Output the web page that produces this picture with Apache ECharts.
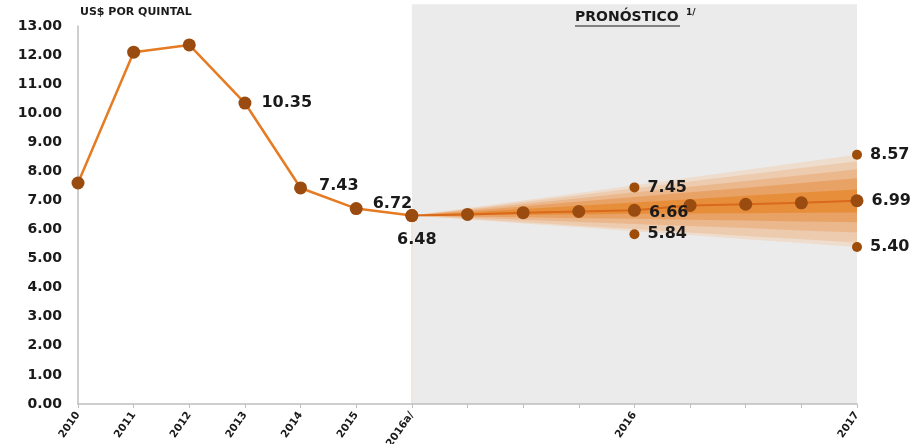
<!DOCTYPE html>
<html>
<head>
<meta charset="utf-8">
<script src="https://cdn.jsdelivr.net/npm/echarts@6/dist/echarts.min.js"></script>
<style>
  html, body { margin: 0; padding: 0; background: #fff; }
  #chart { width: 920px; height: 444px; }
</style>
</head>
<body>
<div id="chart"></div>
<script>
// categorias del eje x (etiquetas vacias = trimestres sin rotulo)
const categories = ['2010', '2011', '2012', '2013', '2014', '2015', '2016a/', '', '', '', '2016', '', '', '', '2017'];
const yTicks = [0, 13, 1];

// precio historico (US$ por quintal)
const historico = [7.60, 12.10, 12.35, 10.35, 7.43, 6.72, 6.48, null, null, null, null, null, null, null, null];
// pronostico central
const pronostico = [null, null, null, null, null, null, 6.48, 6.52, 6.58, 6.62, 6.66, 6.83, 6.87, 6.92, 6.99];
// extremos del pronostico
const extremoAlto = [null, null, null, null, null, null, null, null, null, null, 7.45, null, null, null, 8.57];
const extremoBajo = [null, null, null, null, null, null, null, null, null, null, 5.84, null, null, null, 5.40];

// bandas del abanico (desde 2016a/ hasta 2017), de la interior a la exterior
const banda1Alta = [6.48, 6.59, 6.71, 6.82, 6.93, 7.04, 7.16, 7.27, 7.38];
const banda1Baja = [6.48, 6.49, 6.51, 6.52, 6.54, 6.55, 6.56, 6.58, 6.59];
const banda2Alta = [6.48, 6.64, 6.80, 6.96, 7.12, 7.28, 7.44, 7.60, 7.76];
const banda2Baja = [6.48, 6.45, 6.42, 6.39, 6.37, 6.34, 6.31, 6.28, 6.25];
const banda3Alta = [6.48, 6.68, 6.88, 7.08, 7.28, 7.47, 7.67, 7.87, 8.07];
const banda3Baja = [6.48, 6.41, 6.34, 6.26, 6.19, 6.12, 6.05, 5.97, 5.90];
const banda4Alta = [6.48, 6.71, 6.95, 7.18, 7.42, 7.65, 7.88, 8.12, 8.35];
const banda4Baja = [6.48, 6.36, 6.25, 6.13, 6.02, 5.90, 5.78, 5.67, 5.55];
const banda5Alta = [6.48, 6.74, 7.00, 7.26, 7.52, 7.79, 8.05, 8.31, 8.57];
const banda5Baja = [6.48, 6.35, 6.21, 6.08, 5.94, 5.81, 5.67, 5.54, 5.40];

const inicioPronostico = 6;
const bandas = [
  { alta: banda5Alta, baja: banda5Baja, color: '#eedccd' },
  { alta: banda4Alta, baja: banda4Baja, color: '#edcbaf' },
  { alta: banda3Alta, baja: banda3Baja, color: '#ebb88e' },
  { alta: banda2Alta, baja: banda2Baja, color: '#e9a266' },
  { alta: banda1Alta, baja: banda1Baja, color: '#e78e3b' }
];

// etiquetas de datos visibles: indice -> posicion
const etiquetasHist = { 3: ['right', [2, 0]], 4: ['right', [4, -2]], 5: ['right', [2, -5]], 6: ['bottom', [5, 2]] };
const etiquetasPron = { 10: ['right', [0, 2]], 14: ['right', [0, 0]] };

const FONT = 'DejaVu Sans';
const dotColor = '#9a4b0f';
const labelStyle = { color: '#1a1a1a', fontFamily: FONT, fontWeight: 'bold', fontSize: 16, formatter: p => p.value.toFixed(2) };

function pad(arr) {
  const out = [];
  for (let i = 0; i < categories.length; i++) {
    const k = i - inicioPronostico;
    out.push(k >= 0 && k < arr.length ? arr[k] : '-');
  }
  return out;
}

function conEtiquetas(values, map) {
  return values.map((v, i) => {
    if (v === null) return '-';
    const e = map[i];
    if (!e) return v;
    return { value: v, label: Object.assign({ show: true, position: e[0], offset: e[1], distance: 8 }, labelStyle) };
  });
}

const series = [];
bandas.forEach((b, n) => {
  const baja = pad(b.baja);
  const alta = pad(b.alta);
  series.push({
    type: 'line', stack: 'b' + n, data: baja, symbol: 'none', silent: true,
    lineStyle: { opacity: 0 }, z: 1
  });
  series.push({
    type: 'line', stack: 'b' + n,
    data: alta.map((v, i) => v === '-' ? '-' : +(v - baja[i]).toFixed(3)),
    symbol: 'none', silent: true, lineStyle: { opacity: 0 },
    areaStyle: { color: b.color, opacity: 1 }, z: 1
  });
});

series.push({
  type: 'line', data: conEtiquetas(historico, etiquetasHist),
  symbol: 'circle', symbolSize: 13,
  lineStyle: { color: '#e57b22', width: 2.5 },
  itemStyle: { color: dotColor, borderWidth: 0 }, z: 3
});
series.push({
  type: 'line', data: conEtiquetas(pronostico, etiquetasPron),
  symbol: 'circle', symbolSize: 13,
  lineStyle: { color: '#d9691b', width: 2 },
  itemStyle: { color: dotColor, borderWidth: 0 }, z: 3
});
[extremoAlto, extremoBajo].forEach(arr => {
  series.push({
    type: 'line', data: conEtiquetas(arr, { 10: ['right', [0, 0]], 14: ['right', [0, 0]] }),
    symbol: 'circle', symbolSize: 10, lineStyle: { opacity: 0 },
    itemStyle: { color: '#9e4c08', borderWidth: 0 }, z: 3
  });
});

const chart = echarts.init(document.getElementById('chart'), null, { renderer: 'canvas' });
chart.setOption({
  animation: false,
  backgroundColor: '#ffffff',
  grid: { left: 78, right: 63, top: 26, bottom: 40, containLabel: false, outerBoundsMode: 'none' },
  xAxis: {
    type: 'category', data: categories, boundaryGap: false,
    axisLine: { lineStyle: { color: '#bfbfbf', width: 1.5 } },
    axisTick: { show: true, interval: 0, length: 4, lineStyle: { color: '#bfbfbf' } },
    axisLabel: { interval: 0, rotate: 55, margin: 9, color: '#1a1a1a', fontFamily: FONT, fontWeight: 'bold', fontSize: 10.5 },
    splitLine: { show: false }
  },
  yAxis: {
    type: 'value', min: yTicks[0], max: yTicks[1], interval: yTicks[2],
    axisLine: { show: true, lineStyle: { color: '#bfbfbf', width: 1.5 } },
    axisTick: { show: false },
    axisLabel: { margin: 16, color: '#1a1a1a', fontFamily: FONT, fontWeight: 'bold', fontSize: 14, formatter: v => v.toFixed(2) },
    splitLine: { show: false }
  },
  series: series
});

// fondo gris del pronostico, ubicado con las escalas del grafico
const x0 = chart.convertToPixel({ xAxisIndex: 0 }, inicioPronostico);
const x1 = chart.convertToPixel({ xAxisIndex: 0 }, categories.length - 1);
const yBase = chart.convertToPixel({ yAxisIndex: 0 }, 0);
const yTop = chart.convertToPixel({ yAxisIndex: 0 }, 13.75);
const yLinea = chart.convertToPixel({ yAxisIndex: 0 }, historico[inicioPronostico]);
chart.setOption({
  graphic: [
    { type: 'rect', z: -10, silent: true, shape: { x: x0, y: yTop, width: x1 - x0, height: yBase - yTop }, style: { fill: '#ebebeb' } },
    { type: 'line', z: -9, silent: true, shape: { x1: x0, y1: yLinea, x2: x0, y2: yBase }, style: { stroke: '#f6d9c0', lineWidth: 1 } },
    { type: 'text', left: 80, top: 7, style: { text: 'US$ POR QUINTAL', fill: '#1a1a1a', font: 'bold 11px "DejaVu Sans"' } },
    { type: 'text', left: 575, top: 10, style: { text: 'PRONÓSTICO', fill: '#1a1a1a', font: 'bold 14px "DejaVu Sans"' } },
    { type: 'line', silent: true, shape: { x1: 575, y1: 26, x2: 680, y2: 26 }, style: { stroke: '#1a1a1a', lineWidth: 1.2 } },
    { type: 'text', left: 686, top: 8, style: { text: '1/', fill: '#1a1a1a', font: 'bold 9px "DejaVu Sans"' } }
  ]
});
</script>
</body>
</html>
